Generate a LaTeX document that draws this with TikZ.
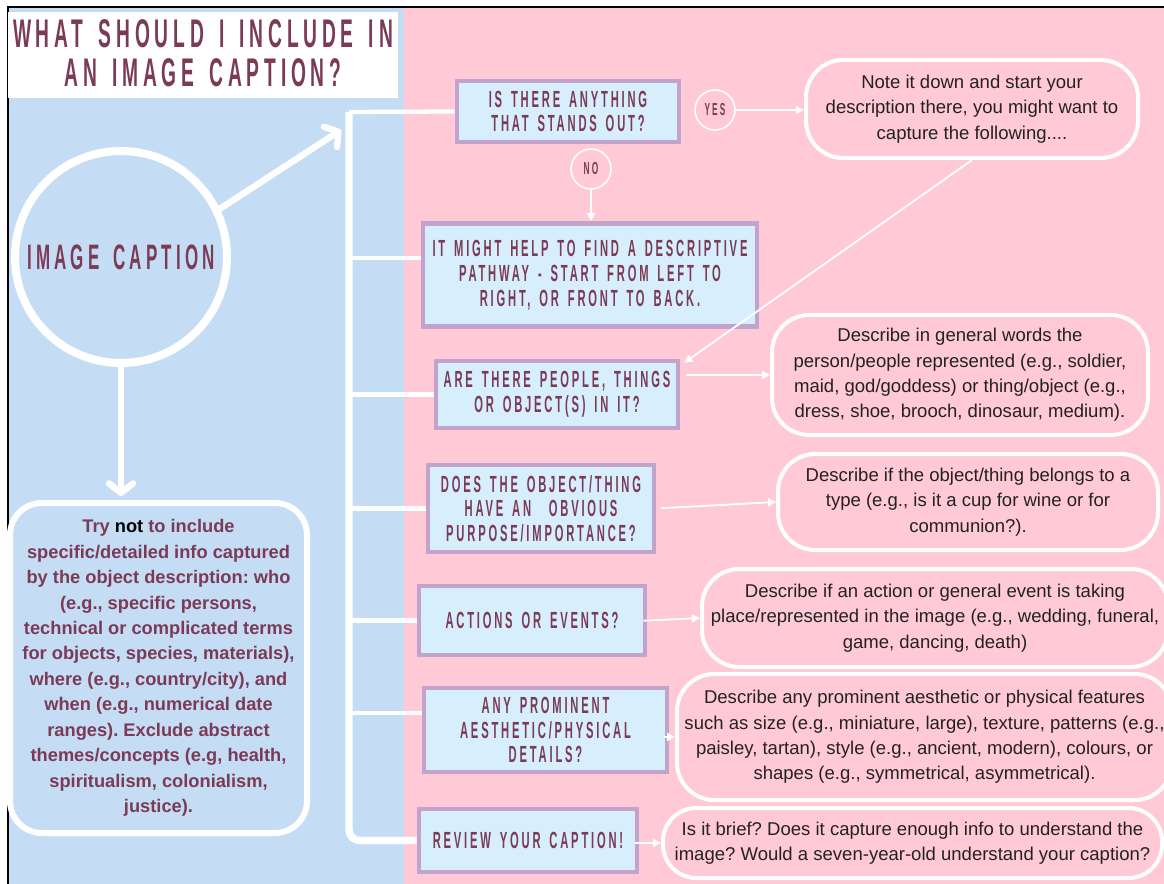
\documentclass[tikz,border=0pt]{standalone}
\usepackage{fontspec}
\setmainfont{Liberation Sans}
\newfontfamily\hfont[FakeStretch=0.48,LetterSpace=12,WordSpace=1.5]{Liberation Sans}
\usetikzlibrary{arrows.meta}

\definecolor{maroon}{HTML}{7B3A56}
\definecolor{bluebg}{HTML}{C5DDF4}
\definecolor{pinkbg}{HTML}{FFC9D5}
\definecolor{boxfill}{HTML}{D7EEFC}
\definecolor{boxline}{HTML}{C2A3CE}
\definecolor{darktext}{HTML}{222222}

\begin{document}
\frenchspacing
\begin{tikzpicture}[x=0.75pt,y=-0.75pt,
  sz/.style 2 args={minimum width=#1*0.75pt, minimum height=#2*0.75pt},
  qbox/.style={draw=boxline, line width=3.5pt, fill=boxfill, inner sep=0pt,
    align=center, text=maroon, font=\hfont\bfseries\fontsize{17.5}{18.5}\selectfont},
  abox/.style={draw=white, line width=3pt, fill=pinkbg, inner sep=0pt,
    rounded corners=28pt, align=center, text=darktext,
    font=\fontsize{13.9}{19}\selectfont},
  tag/.style={circle, draw=white, line width=1.2pt, fill=pinkbg, inner sep=0pt,
    minimum size=40*0.75pt, text=maroon, font=\hfont\bfseries\fontsize{13}{14}\selectfont},
  spine/.style={white, line width=5.5pt},
  branch/.style={white, line width=3.2pt},
  bigarrow/.style={white, line width=4.8pt, line cap=round,
    -{Straight Barb[length=7pt,width=18pt,round]}},
  thinarrow/.style={white, line width=1.4pt, -{Triangle[length=6pt,width=6pt]}}
]
\useasboundingbox (0,0) rectangle (1164,884);
\clip (0,0) rectangle (1164,884);

% panels and frame
\fill[white] (0,0) rectangle (1164,884);
\fill[bluebg] (8,8) rectangle (404,884);
\fill[pinkbg] (404,8) rectangle (1164,884);
\draw[black, line width=1.5pt] (7.5,884) -- (7.5,7.5) -- (1164,7.5);

% title
\fill[white] (8,12) rectangle (398,98);
\node[text=maroon, align=center, font=\hfont\bfseries\fontsize{30}{29.6}\selectfont]
  (title) at (203,53) {WHAT SHOULD I INCLUDE IN\\AN IMAGE CAPTION?};

% central circle
\node[circle, draw=white, line width=6pt, minimum size=212*0.75pt, inner sep=0pt,
  text=maroon, font=\hfont\bfseries\fontsize{26.5}{28}\selectfont]
  (cap) at (121,257) {IMAGE CAPTION};

% left note
\node[draw=white, line width=4.5pt, rounded corners=24pt, sz={297}{330},
  align=center, text=maroon, font=\bfseries\fontsize{13.7}{19.1}\selectfont]
  (note) at (158.5,668) {Try \textcolor{black}{not} to include\\
  specific/detailed info captured\\
  by the object description: who\\
  (e.g., specific persons,\\
  technical or complicated terms\\
  for objects, species, materials),\\
  where (e.g., country/city), and\\
  when (e.g., numerical date\\
  ranges). Exclude abstract\\
  themes/concepts (e.g, health,\\
  spiritualism, colonialism,\\
  justice).};

% question boxes
\node[qbox, sz={222}{61}] (b1) at (568,111.5) {IS THERE ANYTHING\\ THAT STANDS OUT?};
\node[qbox, sz={334}{103}] (b2) at (590,275) {IT MIGHT HELP TO FIND A DESCRIPTIVE\\PATHWAY - START FROM LEFT TO\\RIGHT, OR FRONT TO BACK.};
\node[qbox, sz={242}{67}] (b3) at (557,394.5) {ARE THERE PEOPLE, THINGS\\OR OBJECT(S) IN IT?};
\node[qbox, sz={226}{87}] (b4) at (541,508.5) {DOES THE OBJECT/THING\\HAVE AN \ OBVIOUS\\PURPOSE/IMPORTANCE?};
\node[qbox, sz={226}{69}] (b5) at (532,620.5) {ACTIONS OR EVENTS?};
\node[qbox, sz={243}{84}] (b6) at (545.5,730) {ANY PROMINENT\\AESTHETIC/PHYSICAL\\DETAILS?};
\node[qbox, sz={218}{63}] (b7) at (528,840.5) {REVIEW YOUR CAPTION!};

% yes / no tags
\node[tag] (yes) at (715,110) {YES};
\node[tag] (no) at (591,169) {NO};

% answer boxes
\node[abox, sz={332}{98}] (r1) at (972,109) {Note it down and start your\\description there, you might want to\\capture the following....};
\node[abox, sz={376}{120}] (r2) at (960,375) {Describe in general words the\\person/people represented (e.g., soldier,\\maid, god/goddess) or thing/object (e.g.,\\dress, shoe, brooch, dinosaur, medium).};
\node[abox, sz={380}{96}] (r3) at (968,502) {Describe if the object/thing belongs to a\\type (e.g., is it a cup for wine or for\\communion?).};
\node[abox, sz={466}{98}] (r4) at (935,618) {Describe if an action or general event is taking\\place/represented in the image (e.g., wedding, funeral,\\game, dancing, death)};
\node[abox, sz={495}{126}] (r5) at (924.5,737) {Describe any prominent aesthetic or physical features\\such as size (e.g., miniature, large), texture, patterns (e.g.,\\paisley, tartan), style (e.g., ancient, modern), colours, or\\shapes (e.g., symmetrical, asymmetrical).};
\node[abox, rounded corners=25pt, sz={499}{70}] (r6) at (912.5,843) {Is it brief? Does it capture enough info to understand the\\image? Would a seven-year-old understand your caption?};

% spine and branches
\coordinate (sTop) at (349,112);
\coordinate (j2) at (349,258);
\coordinate (j6) at (349,713);
\coordinate (aTip) at (341,130);
\draw[spine, rounded corners=8pt] (sTop) |- (b7.west);
\draw[branch] (sTop) -- (b1.west);
\draw[branch] (j2) -- (j2 -| b2.west);
\draw[branch] (sTop |- b3.west) -- (b3.west);
\draw[branch] (sTop |- b4.west) -- (b4.west);
\draw[branch] (sTop |- b5.west) -- (b5.west);
\draw[branch] (j6) -- (j6 -| b6.west);

% arrows out of the circle
\draw[bigarrow] (cap.26) -- (aTip);
\draw[bigarrow] (cap.south) -- ([yshift=3pt]cap.south |- note.north);

% thin connectors
\draw[thinarrow] (yes.east) -- (r1.west |- yes.east);
\draw[thinarrow] (no.south) -- (b2.north -| no.south);
\draw[thinarrow] (r1.south) -- ([xshift=3pt,yshift=-3pt]b3.north east);
\draw[thinarrow, shorten <=4pt] (b3.east |- r2.west) -- (r2.west);
\draw[thinarrow, shorten <=3pt] (b4.east) -- (r3.west);
\draw[thinarrow, shorten <=-3pt] (b5.east) -- (r4.west);
\draw[thinarrow] ([xshift=-4pt]b6.east |- r5.west) -- (r5.west);
\draw[thinarrow] ([xshift=-3pt]b7.east |- r6.west) -- (r6.west);
\end{tikzpicture}
\end{document}
